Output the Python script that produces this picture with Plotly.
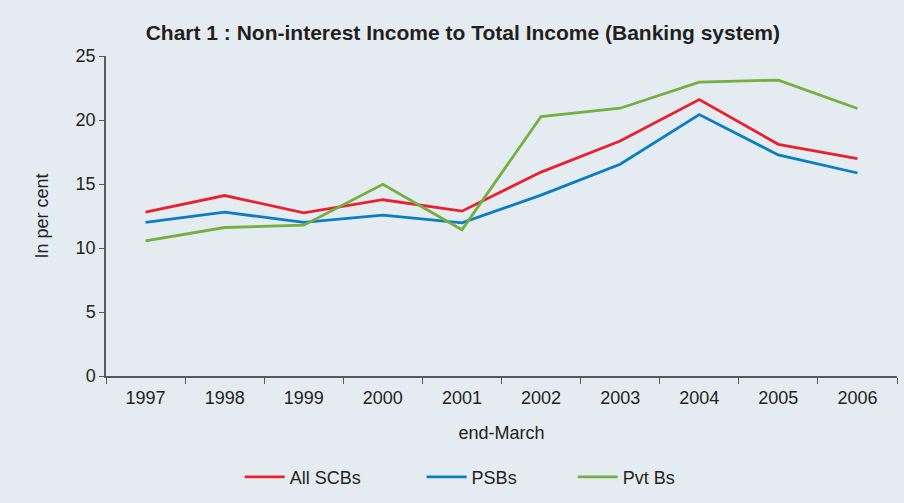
import plotly.graph_objects as go

years = ["1997", "1998", "1999", "2000", "2001", "2002", "2003", "2004", "2005", "2006"]
all_scbs = [12.8, 14.1, 12.75, 13.77, 12.88, 15.93, 18.36, 21.6, 18.1, 16.98]
psbs = [12.0, 12.8, 12.0, 12.56, 11.97, 14.13, 16.54, 20.43, 17.27, 15.86]
pvt_bs = [10.55, 11.6, 11.78, 14.97, 11.42, 20.27, 20.92, 22.96, 23.12, 20.9]

series = [
    ("All SCBs", all_scbs, "#E8212F", "legend", 0.169),
    ("PSBs", psbs, "#0A7DC3", "legend2", 0.399),
    ("Pvt Bs", pvt_bs, "#74AF3F", "legend3", 0.590),
]

BG = "#E4ECF2"
FONT = "Liberation Sans, Arial, sans-serif"
TXT = "#231F20"

fig = go.Figure()
for name, vals, col, lg, _ in series:
    fig.add_trace(go.Scatter(x=years, y=vals, mode="lines", name=name, legend=lg,
                             line=dict(color=col, width=2.8)))

legend_common = dict(orientation="h", y=-0.316, yanchor="middle", xanchor="left",
                     bgcolor="rgba(0,0,0,0)", font=dict(size=18, color=TXT), itemwidth=40)
layout_legends = {}
for name, vals, col, lg, xpos in series:
    layout_legends[lg] = dict(legend_common, x=xpos)

fig.update_layout(
    width=904, height=503,
    paper_bgcolor=BG, plot_bgcolor=BG,
    margin=dict(l=106, r=7, t=56, b=127),
    font=dict(family=FONT, size=18, color=TXT),
    title=dict(text="<b>Chart 1 : Non-interest Income to Total Income (Banking system)</b>",
               x=0.512, xanchor="center", y=0.936, yanchor="middle",
               font=dict(size=21, color=TXT)),
    showlegend=True,
    **layout_legends,
)
fig.update_xaxes(
    type="category", range=[-0.5, 9.5], showgrid=False, zeroline=False,
    showline=True, linecolor="#58595B", linewidth=1.5,
    ticks="outside", tickson="boundaries", ticklen=6, tickcolor="#58595B",
    ticklabelstandoff=5,
    title=dict(text="end-March", standoff=19, font=dict(size=18)),
)
fig.update_yaxes(
    range=[0, 25], tickvals=[0, 5, 10, 15, 20, 25], showgrid=False, zeroline=False,
    showline=True, linecolor="#58595B", linewidth=1.5,
    ticks="outside", ticklen=5, tickcolor="#58595B",
    title=dict(text="In per cent", standoff=22, font=dict(size=18)),
)

fig.write_html("out.html")
